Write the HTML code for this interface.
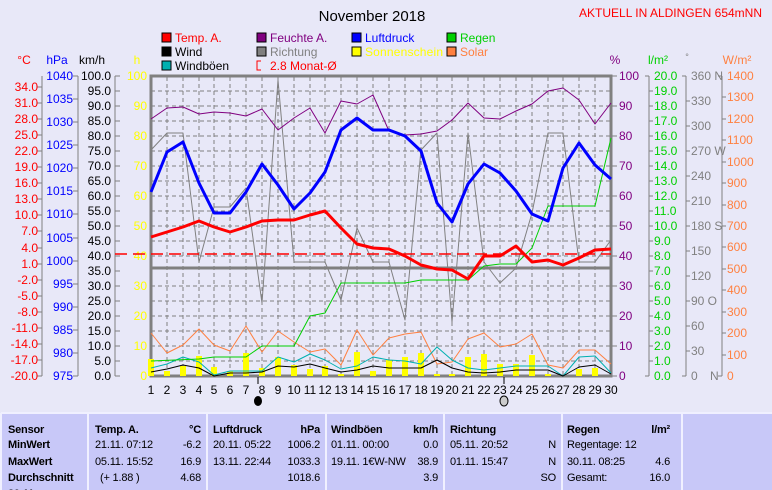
<!DOCTYPE html>
<html><head><meta charset="utf-8"><style>
body{margin:0;background:#e8e8f8;}
svg{display:block;font-family:"Liberation Sans",sans-serif;}
</style></head><body>
<svg width="772" height="490" viewBox="0 0 772 490" xmlns="http://www.w3.org/2000/svg">
<rect width="772" height="490" fill="#e8e8f8"/>
<text x="372" y="21" font-size="15" text-anchor="middle">November 2018</text>
<text x="762" y="17" font-size="12" fill="#ff0000" text-anchor="end">AKTUELL IN ALDINGEN 654mNN</text>
<!-- legend -->
<g font-size="12">
<rect x="162" y="33" width="9" height="9" fill="#ff0000" stroke="#000"/><text x="175" y="42" fill="#ff0000">Temp. A.</text>
<rect x="257" y="33" width="9" height="9" fill="#800080" stroke="#000"/><text x="270" y="42" fill="#800080">Feuchte A.</text>
<rect x="352" y="33" width="9" height="9" fill="#0000ff" stroke="#000"/><text x="365" y="42" fill="#0000ff">Luftdruck</text>
<rect x="447" y="33" width="9" height="9" fill="#00d000" stroke="#000"/><text x="460" y="42" fill="#00d000">Regen</text>
<rect x="162" y="47" width="9" height="9" fill="#000" stroke="#000"/><text x="175" y="56">Wind</text>
<rect x="257" y="47" width="9" height="9" fill="#808080" stroke="#000"/><text x="270" y="56" fill="#808080">Richtung</text>
<rect x="352" y="47" width="9" height="9" fill="#ffff00" stroke="#000"/><text x="365" y="56" fill="#ffff00" textLength="78">Sonnenschein</text>
<rect x="447" y="47" width="9" height="9" fill="#ff8040" stroke="#000"/><text x="460" y="56" fill="#ff8040">Solar</text>
<rect x="162" y="61" width="9" height="9" fill="#00b0b0" stroke="#000"/><text x="175" y="70">Windböen</text>
<path d="M261 61h-4v9h4" fill="none" stroke="#ff0000"/><text x="270" y="70" fill="#ff0000">2.8 Monat-Ø</text>
</g>
<!-- unit labels -->
<g font-size="12">
<text x="24" y="64" fill="#ff0000" text-anchor="middle">°C</text>
<text x="57" y="64" fill="#0000ff" text-anchor="middle">hPa</text>
<text x="92" y="64" text-anchor="middle">km/h</text>
<text x="137" y="64" fill="#ffff00" text-anchor="middle">h</text>
<text x="615" y="64" fill="#800080" text-anchor="middle">%</text>
<text x="658" y="64" fill="#00d000" text-anchor="middle">l/m²</text>
<text x="687" y="60" fill="#808080" text-anchor="middle" font-size="9">°</text>
<text x="737" y="64" fill="#ff8040" text-anchor="middle">W/m²</text>
</g>
<!-- grid -->
<g stroke="#808080" stroke-dasharray="4,3" stroke-width="1">
<path d="M167 77V376M183 77V376M199 77V376M214 77V376M230 77V376M246 77V376M262 77V376M278 77V376M294 77V376M310 77V376M325 77V376M341 77V376M357 77V376M373 77V376M389 77V376M405 77V376M421 77V376M437 77V376M452 77V376M468 77V376M484 77V376M500 77V376M516 77V376M532 77V376M548 77V376M563 77V376M579 77V376M595 77V376"/>
<path d="M151 91H611M151 106H611M151 121H611M151 136H611M151 151H611M151 166H611M151 181H611M151 196H611M151 211H611M151 226H611M151 241H611M151 256H611M151 286H611M151 301H611M151 316H611M151 331H611M151 346H611M151 361H611"/>
</g>
<rect x="151" y="76" width="460" height="300" fill="none" stroke="#808080" stroke-width="3"/>
<line x1="151" y1="268" x2="611" y2="268" stroke="#808080" stroke-width="3"/>
<!-- left axes -->
<g stroke="#808080" fill="none">
<path d="M42 76V376M115 76V376M78 76V376"/>
<path d="M42 87h-5M42 103h-5M42 119h-5M42 135h-5M42 151h-5M42 167h-5M42 183h-5M42 199h-5M42 215h-5M42 231h-5M42 248h-5M42 264h-5M42 280h-5M42 296h-5M42 312h-5M42 328h-5M42 344h-5M42 360h-5M42 376h-5"/>
<path d="M78 76h-5M78 99h-5M78 122h-5M78 145h-5M78 168h-5M78 191h-5M78 214h-5M78 238h-5M78 261h-5M78 284h-5M78 307h-5M78 330h-5M78 353h-5M78 376h-5"/>
<path d="M115 76h5M115 91h5M115 106h5M115 121h5M115 136h5M115 151h5M115 166h5M115 181h5M115 196h5M115 211h5M115 226h5M115 241h5M115 256h5M115 271h5M115 286h5M115 301h5M115 316h5M115 331h5M115 346h5M115 361h5M115 376h5"/>
<path d="M649 76V376M686 76V376M722 76V376"/>
</g>
<g font-size="12" fill="#ff0000" text-anchor="end">
<text x="38" y="91">34.0</text><text x="38" y="107">31.0</text><text x="38" y="123">28.0</text><text x="38" y="139">25.0</text><text x="38" y="155">22.0</text><text x="38" y="171">19.0</text><text x="38" y="187">16.0</text><text x="38" y="203">13.0</text><text x="38" y="219">10.0</text><text x="38" y="235">7.0</text><text x="38" y="252">4.0</text><text x="38" y="268">1.0</text><text x="38" y="284">-2.0</text><text x="38" y="300">-5.0</text><text x="38" y="316">-8.0</text><text x="38" y="332">-11.0</text><text x="38" y="348">-14.0</text><text x="38" y="364">-17.0</text><text x="38" y="380">-20.0</text>
</g>
<g font-size="12" fill="#0000ff" text-anchor="end">
<text x="73" y="80">1040</text><text x="73" y="103">1035</text><text x="73" y="126">1030</text><text x="73" y="149">1025</text><text x="73" y="172">1020</text><text x="73" y="195">1015</text><text x="73" y="218">1010</text><text x="73" y="242">1005</text><text x="73" y="265">1000</text><text x="73" y="288">995</text><text x="73" y="311">990</text><text x="73" y="334">985</text><text x="73" y="357">980</text><text x="73" y="380">975</text>
</g>
<g font-size="12" fill="#000" text-anchor="end">
<text x="111" y="80">100.0</text><text x="111" y="95">95.0</text><text x="111" y="110">90.0</text><text x="111" y="125">85.0</text><text x="111" y="140">80.0</text><text x="111" y="155">75.0</text><text x="111" y="170">70.0</text><text x="111" y="185">65.0</text><text x="111" y="200">60.0</text><text x="111" y="215">55.0</text><text x="111" y="230">50.0</text><text x="111" y="245">45.0</text><text x="111" y="260">40.0</text><text x="111" y="275">35.0</text><text x="111" y="290">30.0</text><text x="111" y="305">25.0</text><text x="111" y="320">20.0</text><text x="111" y="335">15.0</text><text x="111" y="350">10.0</text><text x="111" y="365">5.0</text><text x="111" y="380">0.0</text>
</g>
<g font-size="12" fill="#ffff00" text-anchor="end">
<text x="147" y="80">100</text><text x="147" y="110">90</text><text x="147" y="140">80</text><text x="147" y="170">70</text><text x="147" y="200">60</text><text x="147" y="230">50</text><text x="147" y="260">40</text><text x="147" y="290">30</text><text x="147" y="320">20</text><text x="147" y="350">10</text><text x="147" y="380">0</text>
</g>
<!-- right axes -->
<g stroke="#808080">
<path d="M611 76h6M611 106h6M611 136h6M611 166h6M611 196h6M611 226h6M611 256h6M611 286h6M611 316h6M611 346h6M611 376h6"/>
<path d="M649 76h-4M649 91h4M649 106h4M649 121h4M649 136h4M649 151h4M649 166h4M649 181h4M649 196h4M649 211h4M649 226h4M649 241h4M649 256h4M649 271h4M649 286h4M649 301h4M649 316h4M649 331h4M649 346h4M649 361h4M649 376h-4"/>
<path d="M686 76h-4M686 101h4M686 126h4M686 151h4M686 176h4M686 201h4M686 226h4M686 251h4M686 276h4M686 301h4M686 326h4M686 351h4M686 376h-4"/>
<path d="M722 76h-4M722 97h4M722 119h4M722 140h4M722 162h4M722 183h4M722 205h4M722 226h4M722 247h4M722 269h4M722 290h4M722 312h4M722 333h4M722 355h4M722 376h-4"/>
</g>
<g font-size="12" fill="#800080">
<text x="619" y="80">100</text><text x="619" y="110">90</text><text x="619" y="140">80</text><text x="619" y="170">70</text><text x="619" y="200">60</text><text x="619" y="230">50</text><text x="619" y="260">40</text><text x="619" y="290">30</text><text x="619" y="320">20</text><text x="619" y="350">10</text><text x="619" y="380">0</text>
</g>
<g font-size="12" fill="#00d000">
<text x="654" y="80">20.0</text><text x="654" y="95">19.0</text><text x="654" y="110">18.0</text><text x="654" y="125">17.0</text><text x="654" y="140">16.0</text><text x="654" y="155">15.0</text><text x="654" y="170">14.0</text><text x="654" y="185">13.0</text><text x="654" y="200">12.0</text><text x="654" y="215">11.0</text><text x="654" y="230">10.0</text><text x="654" y="245">9.0</text><text x="654" y="260">8.0</text><text x="654" y="275">7.0</text><text x="654" y="290">6.0</text><text x="654" y="305">5.0</text><text x="654" y="320">4.0</text><text x="654" y="335">3.0</text><text x="654" y="350">2.0</text><text x="654" y="365">1.0</text><text x="654" y="380">0.0</text>
</g>
<g font-size="12" fill="#808080">
<text x="691" y="80">360 N</text><text x="691" y="105">330</text><text x="691" y="130">300</text><text x="691" y="155">270 W</text><text x="691" y="180">240</text><text x="691" y="205">210</text><text x="691" y="230">180 S</text><text x="691" y="255">150</text><text x="691" y="280">120</text><text x="691" y="305">90  O</text><text x="691" y="330">60</text><text x="691" y="355">30</text><text x="691" y="380">0</text><text x="710" y="380">N</text>
</g>
<g font-size="12" fill="#ff8040">
<text x="727" y="80">1400</text><text x="727" y="101">1300</text><text x="727" y="123">1200</text><text x="727" y="144">1100</text><text x="727" y="166">1000</text><text x="727" y="187">900</text><text x="727" y="209">800</text><text x="727" y="230">700</text><text x="727" y="251">600</text><text x="727" y="273">500</text><text x="727" y="294">400</text><text x="727" y="316">300</text><text x="727" y="337">200</text><text x="727" y="359">100</text><text x="727" y="380">0</text>
</g>
<!-- sunshine bars -->
<g fill="#ffff00">
<rect x="148" y="359" width="6" height="17"/><rect x="164" y="371" width="6" height="5"/><rect x="180" y="366" width="6" height="10"/><rect x="196" y="356" width="6" height="20"/><rect x="211" y="367" width="6" height="9"/><rect x="227" y="371" width="6" height="5"/><rect x="243" y="353" width="6" height="23"/><rect x="259" y="368" width="6" height="8"/><rect x="275" y="357" width="6" height="19"/><rect x="291" y="365" width="6" height="11"/><rect x="307" y="369" width="6" height="7"/><rect x="322" y="366" width="6" height="10"/><rect x="338" y="374" width="6" height="2"/><rect x="354" y="352" width="6" height="24"/><rect x="370" y="371" width="6" height="5"/><rect x="386" y="360" width="6" height="16"/><rect x="402" y="357" width="6" height="19"/><rect x="418" y="353" width="6" height="23"/><rect x="434" y="374" width="6" height="2"/><rect x="449" y="374" width="6" height="2"/><rect x="465" y="357" width="6" height="19"/><rect x="481" y="354" width="6" height="22"/><rect x="497" y="364" width="6" height="12"/><rect x="513" y="364" width="6" height="12"/><rect x="529" y="355" width="6" height="21"/><rect x="545" y="374" width="6" height="2"/><rect x="576" y="369" width="6" height="7"/><rect x="592" y="368" width="6" height="8"/>
</g>
<g fill="none" stroke-linejoin="round">
<polyline stroke="#ff8040" points="151,333 167,353 183,345 199,329 214,345 230,351 246,326 262,352 278,331 294,342 310,352 325,349 341,365 357,330 373,355 389,338 405,334 421,332 437,364 452,362 468,339 484,333 500,347 516,344 532,334 548,365 563,368 579,350 595,350 611,364"/>
<polyline stroke="#00b0b0" points="151,368 167,364 183,357 199,362 214,375 230,371 246,371 262,371 278,357 294,362 310,354 325,360 341,369 357,366 373,357 389,360 405,361 421,364 437,347 452,360 468,368 484,370 500,368 516,366 532,366 548,366 563,376 579,357 595,356 611,373"/>
<polyline stroke="#000" points="151,372 167,369 183,365 199,368 214,376 230,373 246,373 262,372 278,366 294,367 310,364 325,368 341,372 357,370 373,366 389,368 405,368 421,368 437,360 452,368 468,372 484,373 500,372 516,370 532,370 548,370 563,376 579,367 595,365 611,374"/>
<polyline stroke="#808080" points="151,150 167,133 183,133 199,262 214,207 230,207 246,188 262,303 278,80 294,262 310,262 325,262 341,300 357,228 373,262 389,262 405,320 421,150 437,133 452,322 468,133 484,262 500,283 516,268 532,213 548,133 563,133 579,262 595,262 611,240"/>
<polyline stroke="#00d000" points="151,361 199,359 214,357 246,357 262,346 294,346 310,316 325,313 341,283 405,283 421,280 468,280 484,266 500,264 516,264 532,248 548,206 579,206 595,206 611,138"/>
<polyline stroke="#800080" points="151,119 167,108 183,107 199,114 214,112 230,113 246,116 262,109 278,130 294,118 310,108 325,133 341,101 357,104 373,95 389,131 405,135 421,134 437,131 452,120 468,103 484,118 500,119 516,111 532,104 548,91 563,88 579,100 595,124 611,103"/>
<polyline stroke="#0000ff" stroke-width="3" points="151,192 167,152 183,142 199,183 214,213 230,213 246,192 262,164 278,185 294,209 310,193 325,172 341,130 357,118 373,130 389,130 405,136 421,151 437,203 452,222 468,184 484,164 500,173 516,191 532,214 548,221 563,168 579,143 595,165 611,179"/>
<line x1="115" y1="254" x2="611" y2="254" stroke="#ff0000" stroke-width="1.5" stroke-dasharray="12,6"/>
<polyline stroke="#ff0000" stroke-width="3" points="151,237 167,232 183,227 199,221 214,227 230,232 246,227 262,221 278,220 294,220 310,215 325,211 341,228 357,244 373,248 389,249 405,256 421,265 437,269 452,270 468,279 484,256 500,256 516,246 532,262 548,260 563,265 579,258 595,250 611,249"/>
</g>
<!-- x labels -->
<g font-size="12" text-anchor="middle">
<text x="151" y="394">1</text><text x="167" y="394">2</text><text x="183" y="394">3</text><text x="199" y="394">4</text><text x="214" y="394">5</text><text x="230" y="394">6</text><text x="246" y="394">7</text><text x="262" y="394">8</text><text x="278" y="394">9</text><text x="294" y="394">10</text><text x="310" y="394">11</text><text x="325" y="394">12</text><text x="341" y="394">13</text><text x="357" y="394">14</text><text x="373" y="394">15</text><text x="389" y="394">16</text><text x="405" y="394">17</text><text x="421" y="394">18</text><text x="437" y="394">19</text><text x="452" y="394">20</text><text x="468" y="394">21</text><text x="484" y="394">22</text><text x="500" y="394">23</text><text x="516" y="394">24</text><text x="532" y="394">25</text><text x="548" y="394">26</text><text x="563" y="394">27</text><text x="579" y="394">28</text><text x="595" y="394">29</text><text x="611" y="394">30</text>
</g>
<path d="M258 377V384M504 377V384" stroke="#000"/>
<ellipse cx="258" cy="401" rx="4" ry="5" fill="#000"/>
<ellipse cx="504" cy="401" rx="4" ry="5" fill="#ccc" stroke="#000"/>
<!-- table -->
<rect x="1" y="413" width="771" height="77" fill="#c8c8f8"/>
<path d="M1 413H772M1 413V490M88 413V490M207 413V490M326 413V490M444 413V490M562 413V490M682 413V490" stroke="#f0f0ff" stroke-width="2"/>
<g font-size="11" font-weight="bold" fill="#000" letter-spacing="-0.2">
<text x="8" y="433">Sensor</text><text x="8" y="448">MinWert</text><text x="8" y="465">MaxWert</text><text x="8" y="481">Durchschnitt</text><text x="8" y="497">30.11.</text>
<text x="95" y="433">Temp. A.</text><text x="201" y="433" text-anchor="end">°C</text>
<text x="213" y="433">Luftdruck</text><text x="320" y="433" text-anchor="end">hPa</text>
<text x="331" y="433">Windböen</text><text x="438" y="433" text-anchor="end">km/h</text>
<text x="450" y="433">Richtung</text>
<text x="567" y="433">Regen</text><text x="670" y="433" text-anchor="end">l/m²</text>
</g>
<g font-size="11" fill="#000" letter-spacing="-0.2">
<text x="95" y="448">21.11.  07:12</text><text x="201" y="448" text-anchor="end">-6.2</text>
<text x="95" y="465">05.11.  15:52</text><text x="201" y="465" text-anchor="end">16.9</text>
<text x="100" y="481">(+ 1.88 )</text><text x="201" y="481" text-anchor="end">4.68</text>
<text x="213" y="448">20.11.  05:22</text><text x="320" y="448" text-anchor="end">1006.2</text>
<text x="213" y="465">13.11.  22:44</text><text x="320" y="465" text-anchor="end">1033.3</text>
<text x="320" y="481" text-anchor="end">1018.6</text>
<text x="331" y="448">01.11.  00:00</text><text x="438" y="448" text-anchor="end">0.0</text>
<text x="331" y="465">19.11.  1€W-NW</text><text x="438" y="465" text-anchor="end">38.9</text>
<text x="438" y="481" text-anchor="end">3.9</text>
<text x="450" y="448">05.11.  20:52</text><text x="556" y="448" text-anchor="end">N</text>
<text x="450" y="465">01.11.  15:47</text><text x="556" y="465" text-anchor="end">N</text>
<text x="556" y="481" text-anchor="end">SO</text>
<text x="567" y="448">Regentage: 12</text>
<text x="567" y="465">30.11.  08:25</text><text x="670" y="465" text-anchor="end">4.6</text>
<text x="567" y="481">Gesamt:</text><text x="670" y="481" text-anchor="end">16.0</text>
</g>
</svg>
</body></html>
